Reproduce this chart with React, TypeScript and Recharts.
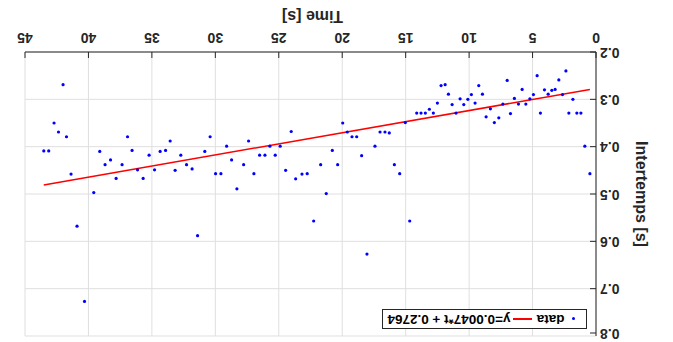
import React from 'react';
import {
  ComposedChart,
  Scatter,
  Line,
  XAxis,
  YAxis,
  CartesianGrid,
  Legend,
} from 'recharts';

// ---- data ----
const times = [
  0.48, 0.88, 1.19, 1.51, 1.82, 2.14, 2.37, 2.64, 2.93, 3.22,
  3.48, 3.77, 4.06, 4.38, 4.64, 4.93, 5.21, 5.53, 5.82, 6.11,
  6.43, 6.74, 7.0, 7.34, 7.66, 8.01, 8.32, 8.66, 8.95, 9.24,
  9.53, 9.82, 10.1, 10.42, 10.71, 11.03, 11.34, 11.63, 11.89, 12.21,
  12.5, 12.82, 13.13, 13.45, 13.79, 14.13, 14.68, 15.03, 15.47, 15.89,
  16.29, 16.63, 17.02, 17.42, 18.05, 18.47, 18.86, 19.23, 19.6, 19.96,
  20.36, 20.78, 21.26, 21.7, 22.25, 22.76, 23.17, 23.67, 24.02, 24.46,
  24.89, 25.28, 25.7, 26.09, 26.51, 26.96, 27.38, 27.77, 28.3, 28.72,
  29.11, 29.56, 29.98, 30.41, 30.83, 31.4, 31.83, 32.27, 32.72, 33.17,
  33.56, 33.92, 34.35, 34.79, 35.22, 35.69, 36.13, 36.56, 36.92, 37.35,
  37.82, 38.26, 38.69, 39.11, 39.58, 40.31, 40.9, 41.37, 41.73, 42.0,
  42.36, 42.71, 43.13, 43.52,
];

const intervals = [
  0.457, 0.399, 0.329, 0.329, 0.3, 0.329, 0.24, 0.29, 0.259, 0.279,
  0.281, 0.289, 0.28, 0.329, 0.25, 0.29, 0.299, 0.31, 0.279, 0.31,
  0.298, 0.33, 0.26, 0.31, 0.339, 0.349, 0.32, 0.337, 0.289, 0.271,
  0.308, 0.29, 0.3, 0.311, 0.299, 0.329, 0.311, 0.289, 0.269, 0.271,
  0.308, 0.329, 0.321, 0.329, 0.329, 0.329, 0.557, 0.349, 0.457, 0.438,
  0.371, 0.369, 0.369, 0.399, 0.627, 0.419, 0.379, 0.379, 0.369, 0.35,
  0.438, 0.408, 0.499, 0.438, 0.557, 0.457, 0.458, 0.468, 0.368, 0.45,
  0.399, 0.418, 0.399, 0.418, 0.418, 0.457, 0.388, 0.438, 0.489, 0.428,
  0.399, 0.457, 0.457, 0.379, 0.41, 0.588, 0.447, 0.438, 0.418, 0.45,
  0.388, 0.408, 0.41, 0.449, 0.418, 0.467, 0.449, 0.408, 0.379, 0.438,
  0.467, 0.428, 0.438, 0.41, 0.497, 0.727, 0.568, 0.458, 0.379, 0.269,
  0.369, 0.35, 0.409, 0.409,
];

// fitted line end points
const fitTimes = [0.48, 43.52];
const fitValues = [0.279, 0.481];

const xTicks = [0, 5, 10, 15, 20, 25, 30, 35, 40, 45];
const yTicks = [0.2, 0.3, 0.4, 0.5, 0.6, 0.7, 0.8];

const seriesName = 'data';
const fitName = 'y=0.0047*t + 0.2764';
const xTitle = 'Time [s]';
const yTitle = 'Intertemps [s]';

const points = times.map((t, i) => ({ t, v: intervals[i] }));
const fitLine = fitTimes.map((t, i) => ({ t, v: fitValues[i] }));

// ---- styling ----
const FONT = "'Liberation Sans', Arial, Helvetica, sans-serif";
const AXIS = '#262626';
const GRID = '#dfdfdf';
const TICK_LEN = 6;

const XTickBottom = (props: any) => {
  const { x, y, payload } = props;
  return (
    <g>
      <line x1={x} x2={x} y1={y} y2={y - TICK_LEN} stroke={AXIS} strokeWidth={1} />
      <text
        x={x}
        y={y + 19}
        textAnchor="middle"
        fontFamily={FONT}
        fontWeight="bold"
        fontSize={14}
        fill={AXIS}
      >
        {payload.value}
      </text>
    </g>
  );
};

const YTickLeft = (props: any) => {
  const { x, y, payload } = props;
  return (
    <g>
      <line x1={x} x2={x + TICK_LEN} y1={y} y2={y} stroke={AXIS} strokeWidth={1} />
      <text
        x={x - 4}
        y={y + 4.5}
        textAnchor="end"
        fontFamily={FONT}
        fontWeight="bold"
        fontSize={14}
        fill={AXIS}
      >
        {Number(payload.value).toFixed(1)}
      </text>
    </g>
  );
};

const XTickTop = (props: any) => {
  const { x, y } = props;
  return <line x1={x} x2={x} y1={y} y2={y + TICK_LEN} stroke={AXIS} strokeWidth={1} />;
};

const YTickRight = (props: any) => {
  const { x, y } = props;
  return <line x1={x} x2={x - TICK_LEN} y1={y} y2={y} stroke={AXIS} strokeWidth={1} />;
};

const XTitle = (props: any) => {
  const vb = props.viewBox || { x: 0, y: 0, width: 0, height: 0 };
  return (
    <text
      x={vb.x + vb.width / 2 - 2}
      y={vb.y + 41.5}
      textAnchor="middle"
      fontFamily={FONT}
      fontWeight="bold"
      fontSize={16}
      fill={AXIS}
    >
      {xTitle}
    </text>
  );
};

const YTitle = (props: any) => {
  const vb = props.viewBox || { x: 0, y: 0, width: 0, height: 0 };
  const cx = vb.x + 36.6;
  const cy = vb.y + vb.height / 2;
  return (
    <text
      x={cx}
      y={cy}
      transform={`rotate(-90, ${cx}, ${cy})`}
      textAnchor="middle"
      fontFamily={FONT}
      fontWeight="bold"
      fontSize={16}
      fill={AXIS}
    >
      {yTitle}
    </text>
  );
};

const renderLegend = () => (
  <div
    style={{
      position: 'relative',
      width: 205,
      height: 20,
      boxSizing: 'border-box',
      border: `1px solid ${AXIS}`,
      background: '#fff',
      fontFamily: FONT,
      fontWeight: 'bold',
      fontSize: 13.5,
      color: '#000',
      lineHeight: '18px',
      whiteSpace: 'nowrap',
    }}
  >
    <span
      style={{
        position: 'absolute',
        left: 10.5,
        top: 7.5,
        width: 3,
        height: 3,
        borderRadius: '50%',
        background: '#0000ff',
      }}
    />
    <span style={{ position: 'absolute', left: 21.5, top: 0 }}>{seriesName}</span>
    <span
      style={{
        position: 'absolute',
        left: 54,
        top: 8.25,
        width: 18.5,
        height: 1.5,
        background: '#ff0000',
      }}
    />
    <span style={{ position: 'absolute', left: 75.5, top: 0 }}>{fitName}</span>
  </div>
);

const Dot = (props: any) => {
  const { cx, cy } = props;
  if (cx == null || cy == null) return null;
  return <circle cx={cx} cy={cy} r={1.6} fill="#0000ff" />;
};

export default function App() {
  return (
    <div
      style={{
        position: 'absolute',
        left: 0,
        top: 0,
        width: 673,
        height: 342,
        background: '#fff',
        transform: 'rotate(180deg)',
      }}
    >
      <ComposedChart
        width={673}
        height={342}
        margin={{ top: 6, right: 25, bottom: 0, left: 0 }}
      >
        <CartesianGrid stroke={GRID} strokeWidth={1} />
        <XAxis
          dataKey="t"
          type="number"
          domain={[0, 45]}
          ticks={xTicks}
          allowDataOverflow
          height={52}
          tickSize={0}
          tickMargin={0}
          tick={<XTickBottom />}
          axisLine={{ stroke: AXIS, strokeWidth: 1 }}
          tickLine={false}
          label={<XTitle />}
        />
        <XAxis
          xAxisId="top"
          orientation="top"
          type="number"
          domain={[0, 45]}
          ticks={xTicks}
          allowDataOverflow
          height={0}
          tickSize={0}
          tickMargin={0}
          tick={<XTickTop />}
          axisLine={{ stroke: AXIS, strokeWidth: 1 }}
          tickLine={false}
        />
        <YAxis
          dataKey="v"
          type="number"
          domain={[0.2, 0.8]}
          ticks={yTicks}
          allowDataOverflow
          width={77}
          tickSize={0}
          tickMargin={0}
          tick={<YTickLeft />}
          axisLine={{ stroke: AXIS, strokeWidth: 1 }}
          tickLine={false}
          label={<YTitle />}
        />
        <YAxis
          yAxisId="right"
          orientation="right"
          type="number"
          domain={[0.2, 0.8]}
          ticks={yTicks}
          allowDataOverflow
          width={0}
          tickSize={0}
          tickMargin={0}
          tick={<YTickRight />}
          axisLine={{ stroke: AXIS, strokeWidth: 1 }}
          tickLine={false}
        />
        <Scatter
          name={seriesName}
          data={points}
          dataKey="v"
          fill="#0000ff"
          shape={<Dot />}
          isAnimationActive={false}
        />
        <Line
          name={fitName}
          data={fitLine}
          dataKey="v"
          type="linear"
          stroke="#ff0000"
          strokeWidth={1.5}
          dot={false}
          activeDot={false}
          isAnimationActive={false}
        />
        <Legend
          content={renderLegend}
          verticalAlign="middle"
          align="center"
          layout="horizontal"
          wrapperStyle={{ left: 86, top: 13, width: 205, height: 20 }}
        />
      </ComposedChart>
    </div>
  );
}
